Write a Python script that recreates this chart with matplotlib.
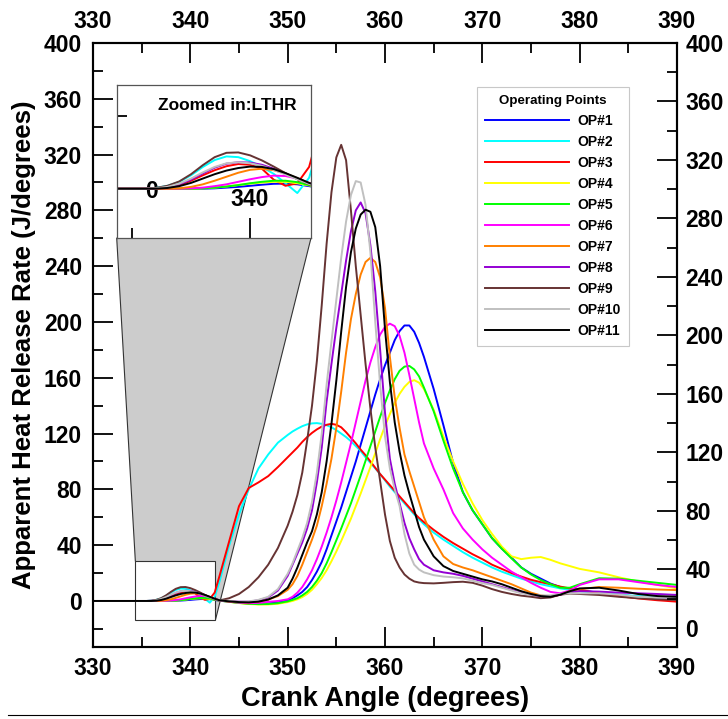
import numpy as np
import matplotlib
matplotlib.use('Agg')
import matplotlib.pyplot as plt
from matplotlib.patches import Polygon, Rectangle
from matplotlib.lines import Line2D
from matplotlib.ticker import MultipleLocator

plt.rcParams['font.family'] = ['Liberation Sans', 'DejaVu Sans']
plt.rcParams['font.weight'] = 'bold'

# crank angle grid (degrees)
crank_angle = [330, 333,
               335, 335.5, 336, 336.5, 337, 337.5, 338, 338.5, 339, 339.5, 340, 340.5, 341, 341.5, 342, 342.5, 343,
               344, 345, 346, 347, 348, 349, 350,
               350.5, 351, 351.5, 352, 352.5, 353, 353.5, 354, 354.5, 355, 355.5, 356, 356.5, 357, 357.5,
               358, 358.5, 359, 359.5, 360, 360.5, 361, 361.5, 362, 362.5, 363, 363.5, 364,
               365, 366, 367, 368, 369, 370, 371, 372, 373, 374, 375, 376, 377, 378, 379, 380,
               382, 384, 386, 388, 390]

# apparent heat release rate (J/deg) for each operating point
hrr_op1 = [0, 0,
           0, 0, 0, 0, 0, 0, 0, 0.1, 0.3, 0.5, 0.8, 1.1, 1.35, 1.4, 1.2, 0.7, 0.2,
           -0.5, -1.2, -1.8, -2, -1.8, -1.1, 0.5,
           2, 4, 6.5, 10, 15, 21, 28, 37, 47, 57, 67, 78, 89, 100, 112, 124, 136, 148, 159, 169, 178, 187,
           193.5, 197.5, 197.5, 193, 185, 175,
           152, 126, 99, 78, 65, 55, 45, 37.5, 31, 24, 19.5, 16, 12.5, 10, 8.5, 7.5,
           6, 4.5, 3, 2.5, 2]
hrr_op2 = [0, 0,
           0, 0, 0.2, 0.8, 1.9, 3.7, 6, 7.9, 8.9, 8.7, 7.6, 6, 4.1, 1.5, -1.2, 3, 14,
           40, 62, 80, 95, 105, 113.5, 119,
           121.5, 123.5, 125.3, 126.6, 127.3, 127.5, 127, 126, 124.5, 122.5, 120, 117.5, 114.5, 111, 107.5,
           103, 99, 95, 91, 86.5, 82, 78, 74, 70, 66, 62, 58.5, 55,
           49, 44, 39.5, 35, 31, 27.5, 24, 21, 18.5, 16, 14, 12, 10.5, 9, 8, 7,
           5.5, 4.5, 3.5, 3, 2.5]
hrr_op3 = [0, 0,
           0, 0, 0, 0.3, 1, 2.2, 3.7, 5.1, 6.2, 6.8, 6.6, 5.5, 2.5, 0.8, 1.5, 6, 18,
           43, 68, 81, 85, 89.5, 96, 103,
           106.5, 110, 114, 117.5, 120.5, 123, 125, 126.3, 127, 126.3, 124.5, 121, 117, 113, 108.5,
           104.5, 100, 95.5, 91, 87, 83, 79, 75, 71, 67, 63, 59.5, 56.5,
           51, 46, 41.5, 37.5, 33.5, 30, 26, 23, 20, 17.5, 15.2, 13.5, 12, 10.3, 9, 8,
           5.5, 3.5, 1.8, 0.5, -0.5]
hrr_op4 = [0, 0,
           0, 0, 0, 0, 0, 0, 0.1, 0.3, 0.6, 1, 1.4, 1.7, 1.9, 1.9, 1.5, 0.9, 0.3,
           -0.6, -1.5, -2.2, -2.5, -2.5, -2, -0.8,
           0, 1.2, 2.8, 5, 8, 12, 16.5, 22, 28.5, 35.5, 43, 51, 59, 68, 77,
           86.5, 96, 106, 116, 125.5, 134, 142, 148.5, 153.5, 157, 158.3, 156.5, 152,
           137, 118, 100, 84, 70, 58, 48, 39, 32, 30, 31, 31.5, 29.5, 27, 25, 23,
           20.5, 17, 14, 11.5, 9]
hrr_op5 = [0, 0,
           0, 0, 0, 0, 0, 0, 0.1, 0.3, 0.6, 1, 1.5, 1.9, 2.2, 2.2, 1.8, 1, 0.3,
           -0.6, -1.4, -2, -2.3, -2.2, -1.6, -0.3,
           0.8, 2, 4, 6.5, 10, 14.5, 20, 27, 35, 43.5, 52, 61, 70, 80, 90,
           100.5, 111, 121.5, 132, 142, 151, 159, 165, 168, 168.5, 166, 161, 153,
           136, 115, 95, 78, 65, 55, 45, 37.5, 30.5, 24, 19, 15, 12, 9.5, 9.5, 12,
           16.3, 16, 14.5, 13, 11.5]
hrr_op6 = [0, 0,
           0, 0, 0, 0, 0, 0.1, 0.3, 0.7, 1.2, 1.9, 2.6, 3.2, 3.6, 3.5, 2.8, 1.6, 0.4,
           -0.5, -1.2, -1.6, -1.4, -0.6, 0, 1.2,
           3, 6, 10, 15.5, 22, 30, 39, 49, 60, 72, 85, 99, 113, 128, 143,
           158, 171, 182, 191, 196.5, 198.8, 197, 190, 178, 162, 145, 128, 113,
           95, 80, 63, 52, 44, 37, 31, 26, 21, 17, 13, 9.5, 6.5, 5.5, 7.5, 11.5,
           15.5, 15.5, 13.5, 11.5, 10]
hrr_op7 = [0, 0,
           0, 0, 0, 0, 0.1, 0.5, 1.2, 2.2, 3.3, 4.4, 5.2, 5.5, 5.1, 4.2, 2.9, 1.5, 0.4,
           -0.3, -0.8, -1, -0.5, 1, 3.5, 8,
           12, 18, 26, 35, 44, 54, 68, 84, 102, 124, 150, 178, 202, 220, 234,
           243, 246, 243, 232, 210, 175, 146, 124, 105, 93, 82, 71, 60,
           44, 32, 26.5, 24, 22, 19.5, 17, 14.5, 12, 9, 6, 4, 3, 4.5, 7, 8.5,
           10, 9.5, 8.8, 8.2, 7.8]
hrr_op8 = [0, 0,
           0, 0, 0.1, 0.4, 1.2, 2.5, 4.2, 5.8, 6.9, 7.3, 7.2, 6.6, 5.5, 4.1, 2.7, 1.4, 0.4,
           0, -0.5, -0.5, 0.5, 2.5, 7.5, 18,
           26, 34, 42, 52, 65, 85, 110, 143, 170, 196, 220, 244, 265, 280, 285.7,
           278, 255, 222, 180, 135, 102, 84, 70, 56, 45, 37, 30, 26,
           22, 20.5, 19.5, 18, 16, 14, 12, 10, 8, 6, 4.5, 3.5, 3, 4.5, 6.3, 7,
           6.7, 6, 5.5, 5, 4.3]
hrr_op9 = [0, 0,
           0, 0, 0.2, 0.8, 2, 4, 6.5, 8.7, 9.9, 10, 9.2, 7.8, 6.1, 4.3, 2.6, 1.2, 0.4,
           2, 5, 10, 17, 26, 38, 54,
           64, 76, 92, 115, 140, 172, 212, 256, 293, 318, 327, 316, 280, 240, 205,
           170, 138, 110, 86, 62, 43, 31, 24, 19, 16, 14, 13.2, 12.8,
           12.6, 13, 13.5, 13.8, 13, 11, 8.5, 6.5, 5, 3.8, 3, 2, 2.5, 4.5, 5.3, 5,
           4.3, 3, 2, 1.2, 0.7]
hrr_op10 = [0, 0,
            0, 0, 0.1, 0.5, 1.4, 2.8, 4.5, 6, 7, 7.3, 7, 6.3, 5.2, 3.9, 2.6, 1.3, 0.4,
            0, -0.5, -0.3, 0.8, 3, 8.5, 19.5,
            27, 36, 45, 56, 71, 92, 120, 155, 186, 216, 246, 272, 291, 301, 300,
            284, 250, 200, 155, 118, 95, 80, 68, 48, 34, 26, 22.5, 20.5,
            18.5, 17.5, 17, 16.2, 14.5, 12.8, 11.5, 9.5, 7.5, 5.5, 4.5, 4, 4, 5, 5.5, 5.5,
            5.5, 4.5, 3, 2.5, 2]
hrr_op11 = [0, 0,
            0, 0, 0, 0.2, 0.7, 1.6, 2.8, 4, 5, 5.7, 6.1, 6, 5.4, 4.3, 3, 1.6, 0.5,
            -0.3, -0.8, -1, -0.5, 1, 4, 9.5,
            16, 24, 33, 42, 50, 62, 78, 100, 127, 158, 193, 225, 250, 267, 277,
            280.5, 279, 268, 240, 195, 157, 128, 107, 90, 77, 65, 53, 44,
            32, 25, 21.5, 19.5, 17.5, 15.5, 14, 12, 9.5, 7, 5, 3.5, 3, 4.5, 7, 9,
            9.5, 7.5, 5, 3.5, 3]

op_labels = ['OP#1', 'OP#2', 'OP#3', 'OP#4', 'OP#5', 'OP#6',
             'OP#7', 'OP#8', 'OP#9', 'OP#10', 'OP#11']
op_colors = ['#0000ff', '#00ffff', '#ff0000', '#ffff00', '#00ff00', '#ff00ff',
             '#ff8000', '#9400d3', '#663333', '#c0c0c0', '#000000']
hrr_all = [hrr_op1, hrr_op2, hrr_op3, hrr_op4, hrr_op5, hrr_op6,
           hrr_op7, hrr_op8, hrr_op9, hrr_op10, hrr_op11]

# tick ranges
x_ticks = [330, 340, 350, 360, 370, 380, 390]
y_ticks = [0, 40, 80, 120, 160, 200, 240, 280, 320, 360, 400]

W, H = 728, 719
fig = plt.figure(figsize=(W / 100, H / 100), dpi=100)
ax = fig.add_axes([93 / W, 1 - 647 / H, 584 / W, 604 / H])

lines = []
for y, c, lab in zip(hrr_all, op_colors, op_labels):
    ln, = ax.plot(crank_angle, y, color=c, lw=1.4, label=lab, zorder=3)
    lines.append(ln)

ax.set_xlim(330, 390)
ax.set_ylim(-33, 400)
ax.set_xticks(x_ticks)
ax.set_yticks(y_ticks)
ax.xaxis.set_minor_locator(MultipleLocator(5))
ax.yaxis.set_minor_locator(MultipleLocator(20))
ax.tick_params(which='major', direction='in', length=14.4, width=1.3, labelsize=16.5)
ax.tick_params(which='minor', direction='in', length=7.2, width=1.3)
ax.tick_params(axis='x', which='both', top=True, labeltop=True, pad=7)
ax.tick_params(axis='y', which='both', right=False, pad=8)
for s in ax.spines.values():
    s.set_linewidth(1.5)

ax.set_xlabel('Crank Angle (degrees)', fontsize=19.5, fontweight='bold')
ax.xaxis.set_label_coords(0.5, -0.064)
ax.set_ylabel('Apparent Heat Release Rate (J/degrees)', fontsize=18.5, fontweight='bold')
ax.yaxis.set_label_coords(-0.097, 0.5)

# right axis (own scale)
ax2 = ax.twinx()
ax2.set_ylim(-13, 400)
ax2.set_yticks(y_ticks)
ax2.yaxis.set_minor_locator(MultipleLocator(20))
ax2.tick_params(which='major', direction='in', length=14.4, width=1.3, labelsize=16.5, pad=6)
ax2.tick_params(which='minor', direction='in', length=7.2, width=1.3)
for s in ax2.spines.values():
    s.set_linewidth(1.5)

# inset zoom on the low temperature heat release
ax_in = fig.add_axes([116.7 / W, 1 - 238 / H, (311 - 116.7) / W, (238 - 85) / H])
for y, c in zip(hrr_all, op_colors):
    ax_in.plot(crank_angle, y, color=c, lw=1.4)
ax_in.set_xlim(334.35, 342.58)
ax_in.set_ylim(-13.6, 28.6)
ax_in.xaxis.set_major_locator(MultipleLocator(10))
ax_in.xaxis.set_minor_locator(MultipleLocator(5))
ax_in.yaxis.set_major_locator(MultipleLocator(40))
ax_in.yaxis.set_minor_locator(MultipleLocator(20))
ax_in.tick_params(which='major', direction='in', length=14.4, width=1.3, labelsize=16.5)
ax_in.tick_params(which='minor', direction='in', length=7.2, width=1.3)
ax_in.tick_params(axis='x', pad=-36)
ax_in.tick_params(axis='y', pad=-30)
for s in ax_in.spines.values():
    s.set_linewidth(0.9)
    s.set_color('#555555')
ax_in.text(0.568, 0.869, 'Zoomed in:LTHR', transform=ax_in.transAxes,
           ha='center', va='center', fontsize=12.5, fontweight='bold')

# zoom box and connecting grey area
x0, x1 = ax_in.get_xlim()
y0, y1 = ax_in.get_ylim()
to_data = ax.transData.inverted()
bl = to_data.transform(ax_in.transAxes.transform((0, 0)))
br = to_data.transform(ax_in.transAxes.transform((1, 0)))
poly = Polygon([bl, br, (x1, y0), (x0, y1)], closed=True, facecolor='#cccccc',
               edgecolor='#333333', lw=0.8, zorder=1)
ax.add_patch(poly)
ax.add_patch(Rectangle((x0, y0), x1 - x0, y1 - y0, facecolor='white',
                       edgecolor='#333333', lw=0.8, zorder=2))

leg = ax.legend(handles=lines, loc='upper left', bbox_to_anchor=(477 / W, 1 - 87 / H),
                bbox_transform=fig.transFigure, title='Operating Points',
                title_fontproperties={'weight': 'bold', 'size': 9.6},
                prop={'weight': 'bold', 'size': 10}, handlelength=6.0,
                handletextpad=0.65, labelspacing=0.5, borderpad=0.6,
                borderaxespad=0, fancybox=False, edgecolor='#c8c8c8', framealpha=1)
leg.get_frame().set_linewidth(0.8)
leg.set_zorder(10)

fig.add_artist(Line2D([8 / W, 1.0], [1 - 715 / H, 1 - 715 / H], color='black', lw=0.8))

fig.savefig('out.png', dpi=100)
